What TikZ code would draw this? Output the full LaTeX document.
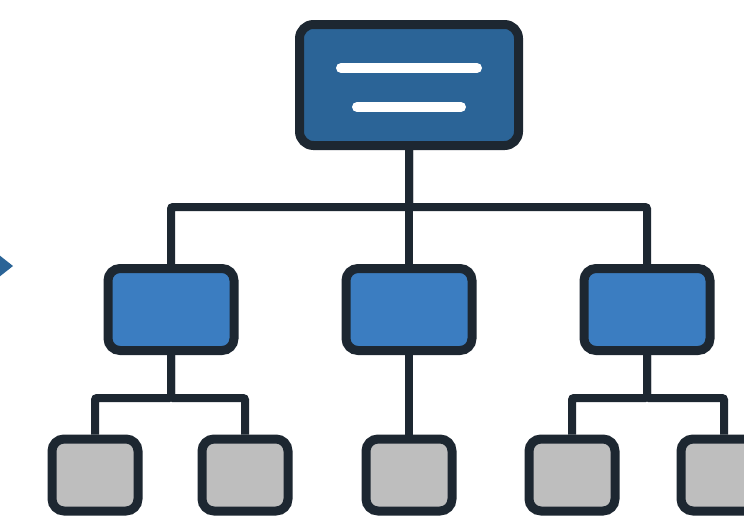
\documentclass[tikz,border=0pt]{standalone}
\usepackage{tikz}
\usetikzlibrary{shapes, arrows, calc, positioning}
\definecolor{edgedark}{HTML}{1D2731}
\definecolor{topblue}{HTML}{2B6497}
\definecolor{midblue}{HTML}{3B7DC1}
\definecolor{leafgrey}{HTML}{BEBEBE}
\tikzstyle{link} = [draw, edgedark, line width=8pt, rounded corners=2pt]
\tikzstyle{topbox} = [rectangle, draw=edgedark, fill=topblue, line width=9pt, rounded corners=14pt, minimum width=219pt, minimum height=121pt]
\tikzstyle{midbox} = [rectangle, draw=edgedark, fill=midblue, line width=9pt, rounded corners=12pt, minimum width=126pt, minimum height=82pt]
\tikzstyle{leafbox} = [rectangle, draw=edgedark, fill=leafgrey, line width=9pt, rounded corners=12pt, minimum width=86pt, minimum height=72pt]
\tikzstyle{textbar} = [draw, white, line width=10pt, line cap=round]

\begin{document}
\begin{tikzpicture}[x=1pt, y=-1pt, node distance=114pt and 103pt]
\useasboundingbox (0,0) rectangle (744,517);
\clip (0,0) rectangle (744,517);
\fill[white] (0,0) rectangle (744,517);
% arrow tip at the left edge
\fill[topblue] (-6,251) -- (13,266) -- (-6,281) -- cycle;
\node [topbox] at (409,85) (root) {};
\draw [textbar] ([xshift=-68pt, yshift=17pt]root.center) -- ([xshift=68pt, yshift=17pt]root.center);
\draw [textbar] ([xshift=-52pt, yshift=-22pt]root.center) -- ([xshift=52pt, yshift=-22pt]root.center);
\node [midbox, below=of root] (mid) {};
\node [midbox, left=of mid] (lmid) {};
\node [midbox, right=of mid] (rmid) {};
\node [leafbox] at (95,475) (leafa) {};
\node [leafbox] at (245,475) (leafb) {};
\node [leafbox] at (409,475) (leafc) {};
\node [leafbox] at (572,475) (leafd) {};
\node [leafbox] at (724,475) (leafe) {};
\path [link] (root) -- (mid);
\path [link] (root.south) -- ++(0,57) -| (lmid.north);
\path [link] (root.south) -- ++(0,57) -| (rmid.north);
\path [link] (lmid.south) -- ++(0,43) -| (leafa.north);
\path [link] (lmid.south) -- ++(0,43) -| (leafb.north);
\path [link] (mid) -- (leafc);
\path [link] (rmid.south) -- ++(0,43) -| (leafd.north);
\path [link] (rmid.south) -- ++(0,43) -| (leafe.north);
\end{tikzpicture}
\end{document}
